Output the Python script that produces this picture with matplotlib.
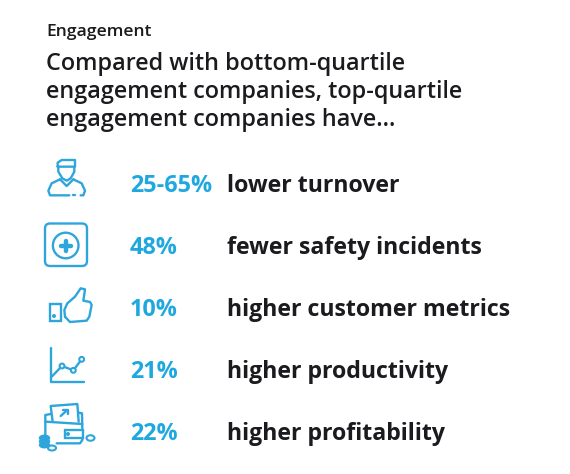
import numpy as np
import matplotlib
matplotlib.use("Agg")
import matplotlib.pyplot as plt
from matplotlib.patches import FancyBboxPatch, Circle, Ellipse, Rectangle

header = "Engagement"
title_lines = ["Compared with bottom-quartile", "engagement companies, top-quartile", "engagement companies have..."]
values = ["25-65%", "48%", "10%", "21%", "22%"]
labels = ["lower turnover", "fewer safety incidents", "higher customer metrics", "higher productivity", "higher profitability"]

BLUE = "#1fa8e0"
ICON = "#2ea6db"
DARK = "#1b1b1f"
plt.rcParams["font.family"] = ["Open Sans", "DejaVu Sans"]

fig = plt.figure(figsize=(5.70, 4.74), dpi=100)
ax = fig.add_axes([0, 0, 1, 1])
ax.set_xlim(0, 570)
ax.set_ylim(474, 0)
ax.axis("off")

ax.text(46.5, 32, header, fontsize=12.6, fontweight="semibold", color=DARK, va="center")
for y, t in zip([64, 92, 120], title_lines):
    ax.text(46.5, y, t, fontsize=16.8, fontweight="semibold", color=DARK, va="center")

row_y = [186, 248, 310, 372, 434]
for y, v, l in zip(row_y, values, labels):
    ax.text(130, y, v, fontsize=16.8, fontweight="bold", color=BLUE, va="center")
    ax.text(227, y, l, fontsize=16.7, fontweight="bold", color=DARK, va="center")

def line(ox, oy, pts, lw=1.7):
    p = np.array(pts, float) / 3
    ax.plot(ox + p[:, 0], oy + p[:, 1], color=ICON, lw=lw, solid_capstyle="round", solid_joinstyle="round")

# person
o = (30, 150)
line(*o, [(83, 50), (83, 38), (95, 30), (135, 30), (135, 50), (83, 50)])
line(*o, [(85, 50), (85, 65), (97, 85), (110, 92), (122, 85), (133, 65), (133, 50)])
line(*o, [(90, 88), (65, 100), (55, 122), (60, 136), (118, 136)])
line(*o, [(130, 88), (155, 100), (165, 122), (160, 136), (152, 136)])
line(*o, [(90, 88), (110, 108), (130, 88)])
line(*o, [(128, 136), (136, 136)])
# safety box
ax.add_patch(FancyBboxPatch((45, 223.5), 42, 42.5, boxstyle="round,pad=0,rounding_size=5", fill=False, ec=ICON, lw=1.7))
ax.add_patch(Circle((65.7, 245.5), 12.8, fill=False, ec=ICON, lw=1.7))
line(30, 150, [(92, 287), (122, 287)], lw=3.2)
line(30, 150, [(107, 272), (107, 302)], lw=3.2)
# thumb
o = (30, 280)
ax.add_patch(Rectangle((49.5, 304), 11, 17, fill=False, ec=ICON, lw=1.7))
ax.add_patch(Circle((54, 316), 1.3, color=ICON))
line(*o, [(105, 110), (103, 90), (112, 70), (135, 50), (152, 25), (165, 28), (160, 62), (180, 66), (185, 75), (178, 110), (170, 122), (120, 126), (105, 110)])
# chart
line(*o, [(62, 205), (62, 306), (162, 306)])
line(*o, [(65, 290), (96, 258), (130, 271), (155, 238)])
for px, py in [(96, 258), (130, 271), (155, 238)]:
    ax.add_patch(Circle((30 + px / 3, 280 + py / 3), 2.4, fc="white", ec=ICON, lw=1.5, zorder=3))
# wallet
line(*o, [(68, 425), (62, 378), (142, 372), (146, 425)])
line(*o, [(92, 408), (112, 390)])
line(*o, [(100, 390), (113, 390), (113, 402)])
line(*o, [(62, 402), (46, 405), (46, 470)])
line(*o, [(146, 398), (156, 400), (157, 445)])
line(*o, [(46, 425), (157, 432)])
line(*o, [(80, 490), (150, 490), (157, 480), (157, 472)])
ax.add_patch(Rectangle((65, 430), 18, 7.5, fc="white", ec=ICON, lw=1.7, zorder=3))
ax.add_patch(Circle((68, 434), 1.3, color=ICON, zorder=4))
for cy in (438, 441.5, 445):
    ax.add_patch(Ellipse((44.5, cy), 10, 5.5, color=ICON, zorder=3))
ax.add_patch(Ellipse((52, 448), 8, 5, fc="white", ec=ICON, lw=1.5, zorder=3))
ax.add_patch(Ellipse((90.5, 438), 8, 5.5, fc="white", ec=ICON, lw=1.5, zorder=3))

fig.savefig("out.png", dpi=100, facecolor="white")
